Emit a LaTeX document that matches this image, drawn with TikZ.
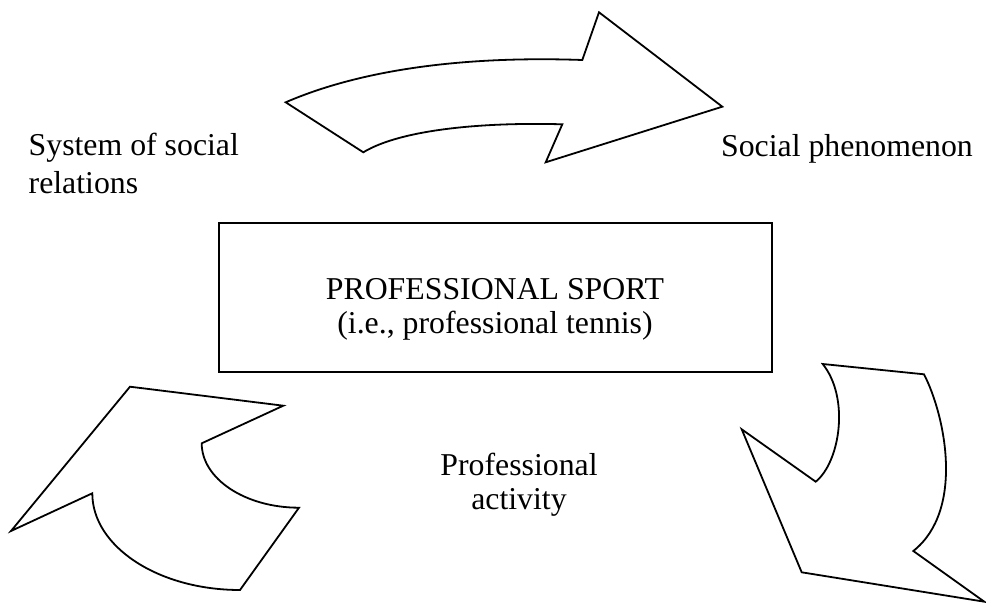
\documentclass[tikz,border=0pt]{standalone}
\usepackage{fontspec}
\setmainfont{Liberation Serif}
\begin{document}
\begin{tikzpicture}[x=0.5pt,y=-0.5pt,
  outline/.style={draw=black, line width=0.9pt, fill=white},
  caption/.style={inner sep=0pt, font=\fontsize{15.9}{19}\selectfont},
  frame/.style={draw=black, line width=0.9pt, minimum width=276.2pt,
    minimum height=74.2pt, inner sep=0pt}]
\useasboundingbox (0,0) rectangle (986,604);

% curved arrow at the top, pointing right
\draw[outline] (285.7,102.3)
  .. controls (365,68) and (470,56) .. (582.3,60)
  -- (599,12.3) -- (722.3,106.7) -- (545.7,162.3) -- (562.3,124.3)
  .. controls (480,122) and (400,130) .. (363.3,152.3)
  -- cycle;

% curved arrow at the lower left, pointing up
\draw[outline] (130,386.7) -- (283.3,405.7) -- (201.7,443.3)
  .. controls (201.7,478.9) and (245.3,507.7) .. (299,507.7)
  -- (240,590)
  .. controls (158.4,590) and (92.3,546.7) .. (92.3,493.3)
  -- (11,531) -- cycle;

% curved arrow at the lower right, pointing down
\draw[outline] (822.7,364) -- (924,374.3)
  .. controls (945,415) and (965,510) .. (913.3,551)
  -- (984.3,601.7) -- (801.7,572.3) -- (741.7,429.3) -- (815.7,481.7)
  .. controls (840,462) and (850,398) .. cycle;

% central box
\node[frame] (sport) at (495.5,297.5) {};
\node[caption, anchor=base] (sportA) at (495,300) {PROFESSIONAL SPORT};
\node[caption, anchor=base] (sportB) at (495,333.3) {(i.e., professional tennis)};

% surrounding captions
\node[caption, anchor=base west] (relA) at (28.3,156) {System of social};
\node[caption, anchor=base west] (relB) at (28.3,193.3) {relations};
\node[caption, anchor=base west] (phen) at (720.7,156.7) {Social phenomenon};
\node[caption, anchor=base] (actA) at (519,475) {Professional};
\node[caption, anchor=base] (actB) at (519,509.5) {activity};
\end{tikzpicture}
\end{document}
